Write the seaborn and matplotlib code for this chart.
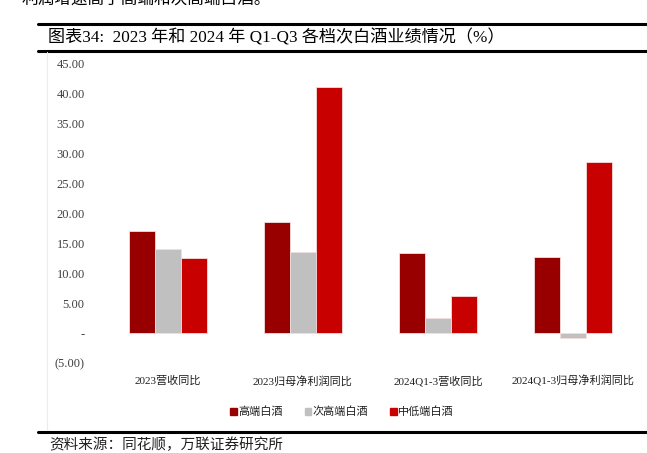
import numpy as np
import pandas as pd
import matplotlib
matplotlib.use("Agg")
import matplotlib.pyplot as plt
from matplotlib.lines import Line2D
from matplotlib.ticker import FixedLocator, FuncFormatter
import seaborn as sns

# data
categories = ["2023营收同比", "2023归母净利润同比", "2024Q1-3营收同比", "2024Q1-3归母净利润同比"]
series_names = ["高端白酒", "次高端白酒", "中低端白酒"]
high_end = [17.1, 18.5, 13.4, 12.8]
sub_high_end = [14.0, 13.6, 2.5, -0.8]
mid_low_end = [12.5, 41.2, 6.2, 28.6]
colors = ["#980000", "#C0C0C0", "#C80000"]

title = "图表34:  2023 年和 2024 年 Q1-Q3 各档次白酒业绩情况（%）"
source = "资料来源：同花顺，万联证券研究所"
top_fragment = "利润增速高于高端和次高端白酒。"


def fmt_tick(v, pos):
    if abs(v) < 1e-9:
        return "-"
    if v < 0:
        return "({:.2f})".format(-v)
    return "{:.2f}".format(v)


def main():
    sns.set_style("white")
    plt.rcParams["font.family"] = ["Liberation Serif", "Noto Sans CJK SC"]

    df = pd.DataFrame({
        "category": categories * 3,
        "series": np.repeat(series_names, len(categories)),
        "value": high_end + sub_high_end + mid_low_end,
    })

    fig = plt.figure(figsize=(6.47, 4.53), dpi=100)
    ax = fig.add_axes([100 / 647, 1 - 363 / 453, 541 / 647, 299 / 453])

    sns.barplot(
        data=df,
        x="category",
        y="value",
        hue="series",
        order=categories,
        hue_order=series_names,
        palette=colors,
        saturation=1,
        width=0.575,
        edgecolor="#f4dede",
        linewidth=0.6,
        ax=ax,
    )

    ax.set_ylim(-5, 45)
    ax.set_xlim(-0.5, 3.5)
    ax.yaxis.set_major_locator(FixedLocator(np.arange(-5, 46, 5)))
    ax.yaxis.set_major_formatter(FuncFormatter(fmt_tick))
    ax.tick_params(axis="y", length=0, pad=11, labelsize=9, labelcolor="#404040")
    ax.tick_params(axis="x", length=0, pad=9, labelsize=8, labelcolor="#202020")
    ax.set_xlabel("")
    ax.set_ylabel("")
    for s in ax.spines.values():
        s.set_visible(False)
    ax.grid(False)

    ax.get_legend().remove()
    handles = [plt.Rectangle((0, 0), 1, 1, color=c) for c in colors]
    fig.legend(handles, series_names, loc="center", bbox_to_anchor=(342 / 647, 1 - 412 / 453),
               ncol=3, frameon=False, fontsize=8, handlelength=0.6, handleheight=0.6,
               handletextpad=0.1, columnspacing=2.0, labelcolor="#202020")

    # header / footer decorations
    fig.add_artist(Line2D([38 / 647, 1], [1 - 24 / 453] * 2, color="black", lw=2.2))
    fig.add_artist(Line2D([38 / 647, 1], [1 - 50.5 / 453] * 2, color="black", lw=2.2))
    fig.add_artist(Line2D([38 / 647, 1], [1 - 432 / 453] * 2, color="black", lw=2.2))
    fig.add_artist(Line2D([47 / 647] * 2, [1 - 52 / 453, 1 - 430 / 453], color="#ececec", lw=0.8))

    fig.text(48 / 647, 1 - 38 / 453, title, fontsize=12.3, va="center", ha="left", color="black")
    fig.text(49 / 647, 1 - 445 / 453, source, fontsize=10.5, va="center", ha="left",
             color="#202020", style="italic")
    fig.text(22 / 647, 1.0, top_fragment, fontsize=12, va="center", ha="left", color="black")

    fig.savefig("out.png", dpi=100)


if __name__ == "__main__":
    main()
